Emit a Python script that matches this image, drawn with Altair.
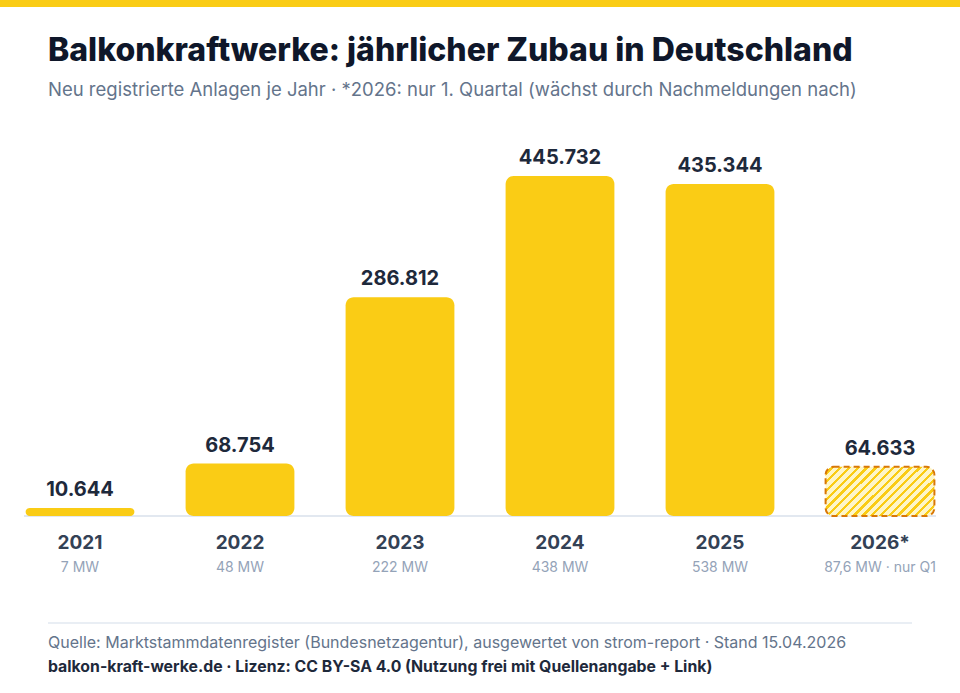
import altair as alt
import pandas as pd

# --- data -------------------------------------------------------------
years = ["2021", "2022", "2023", "2024", "2025", "2026"]
year_labels = ["2021", "2022", "2023", "2024", "2025", "2026*"]
anlagen = [10644, 68754, 286812, 445732, 435344, 64633]
leistung = ["7 MW", "48 MW", "222 MW", "438 MW", "538 MW", "87,6 MW · nur Q1"]
vollstaendig = [True, True, True, True, True, False]

title_text = "Balkonkraftwerke: jährlicher Zubau in Deutschland"
subtitle_text = "Neu registrierte Anlagen je Jahr · *2026: nur 1. Quartal (wächst durch Nachmeldungen nach)"
source_text = "Quelle: Marktstammdatenregister (Bundesnetzagentur), ausgewertet von strom-report · Stand 15.04.2026"
license_text = "balkon-kraft-werke.de · Lizenz: CC BY-SA 4.0 (Nutzung frei mit Quellenangabe + Link)"

df = pd.DataFrame({
    "jahr": years,
    "label": year_labels,
    "anlagen": anlagen,
    "leistung": leistung,
    "voll": vollstaendig,
})

# --- style ------------------------------------------------------------
FONT = "Inter"
YELLOW = "#FACC15"
INK = "#0f172a"
SLATE7 = "#334155"
SLATE5 = "#64748b"
SLATE4 = "#94a3b8"
LINE = "#e2e8f0"

# diagonal hatch for the partial year, built as a striped linear gradient
n_stripes = 18
stops = []
for i in range(n_stripes):
    a = i / n_stripes
    b = (i + 0.62) / n_stripes
    c = (i + 1) / n_stripes
    stops += [
        alt.GradientStop(offset=a, color="#FEF6C8"),
        alt.GradientStop(offset=b, color="#FEF6C8"),
        alt.GradientStop(offset=b, color=YELLOW),
        alt.GradientStop(offset=c, color=YELLOW),
    ]
hatch = alt.Gradient(gradient="linear", x1=0, y1=0, x2=1.2055, y2=0.548, stops=stops)

x_enc = alt.X("jahr:N", scale=alt.Scale(domain=years, paddingInner=0.32, paddingOuter=0.16), axis=None)
y_scale = alt.Scale(domain=[0, 676500], nice=False, zero=True)

base = alt.Chart(df)

baseline = alt.Chart(pd.DataFrame({"v": [0]})).mark_rule(color=LINE, strokeWidth=2).encode(
    x=alt.value(24), x2=alt.value(936), y=alt.Y("v:Q", scale=y_scale, axis=None)
)

bars = base.transform_filter("datum.voll").mark_bar(color=YELLOW, cornerRadius=8).encode(
    x=x_enc, y=alt.Y("anlagen:Q", scale=y_scale, axis=None), y2=alt.datum(0)
)

bars_partial = base.transform_filter("!datum.voll").mark_bar(
    color=hatch, stroke="#D97706", strokeWidth=2, strokeDash=[6, 4], cornerRadius=8
).encode(
    x=x_enc, y=alt.Y("anlagen:Q", scale=y_scale, axis=None), y2=alt.datum(0)
)

values = base.transform_calculate(
    txt="replace(format(datum.anlagen, ','), ',', '.')"
).mark_text(font=FONT, fontSize=20, fontWeight="bold", color="#1e293b", baseline="alphabetic", dy=-12).encode(
    x=x_enc, y=alt.Y("anlagen:Q", scale=y_scale, axis=None), text="txt:N"
)

year_text = base.mark_text(font=FONT, fontSize=19, fontWeight="bold", color=SLATE7, baseline="middle").encode(
    x=x_enc, y=alt.value(543), text="label:N"
)

mw_text = base.mark_text(font=FONT, fontSize=14, color=SLATE4, baseline="middle").encode(
    x=x_enc, y=alt.value(568), text="leistung:N"
)

one = pd.DataFrame({"a": [0]})

top_stripe = alt.Chart(one).mark_rect(color=YELLOW).encode(
    x=alt.value(0), x2=alt.value(960), y=alt.value(0), y2=alt.value(7)
)

title = alt.Chart(one).mark_text(
    text=title_text, font=FONT, fontSize=32, fontWeight=800, color=INK, align="left", baseline="alphabetic"
).encode(x=alt.value(48), y=alt.value(61))

subtitle = alt.Chart(one).mark_text(
    text=subtitle_text, font=FONT, fontSize=18.5, color=SLATE5, align="left", baseline="alphabetic"
).encode(x=alt.value(48), y=alt.value(96))

footer_rule = alt.Chart(one).mark_rule(color=LINE, strokeWidth=1.5).encode(
    x=alt.value(48), x2=alt.value(912), y=alt.value(623)
)

source = alt.Chart(one).mark_text(
    text=source_text, font=FONT, fontSize=16, color=SLATE5, align="left", baseline="alphabetic"
).encode(x=alt.value(48), y=alt.value(648))

license_ = alt.Chart(one).mark_text(
    text=license_text, font=FONT, fontSize=15.8, fontWeight="bold", color="#1e293b", align="left", baseline="alphabetic"
).encode(x=alt.value(48), y=alt.value(672))

chart = alt.layer(
    baseline, bars, bars_partial, values, year_text, mw_text,
    top_stripe, title, subtitle, footer_rule, source, license_
).properties(
    width=960, height=516,
    autosize=alt.AutoSizeParams(type="none"),
    padding={"left": 0, "top": 0, "right": 0, "bottom": 177},
    background="white",
).configure_view(stroke=None)

chart.save("out.html", embed_options={"renderer": "svg", "actions": False})
